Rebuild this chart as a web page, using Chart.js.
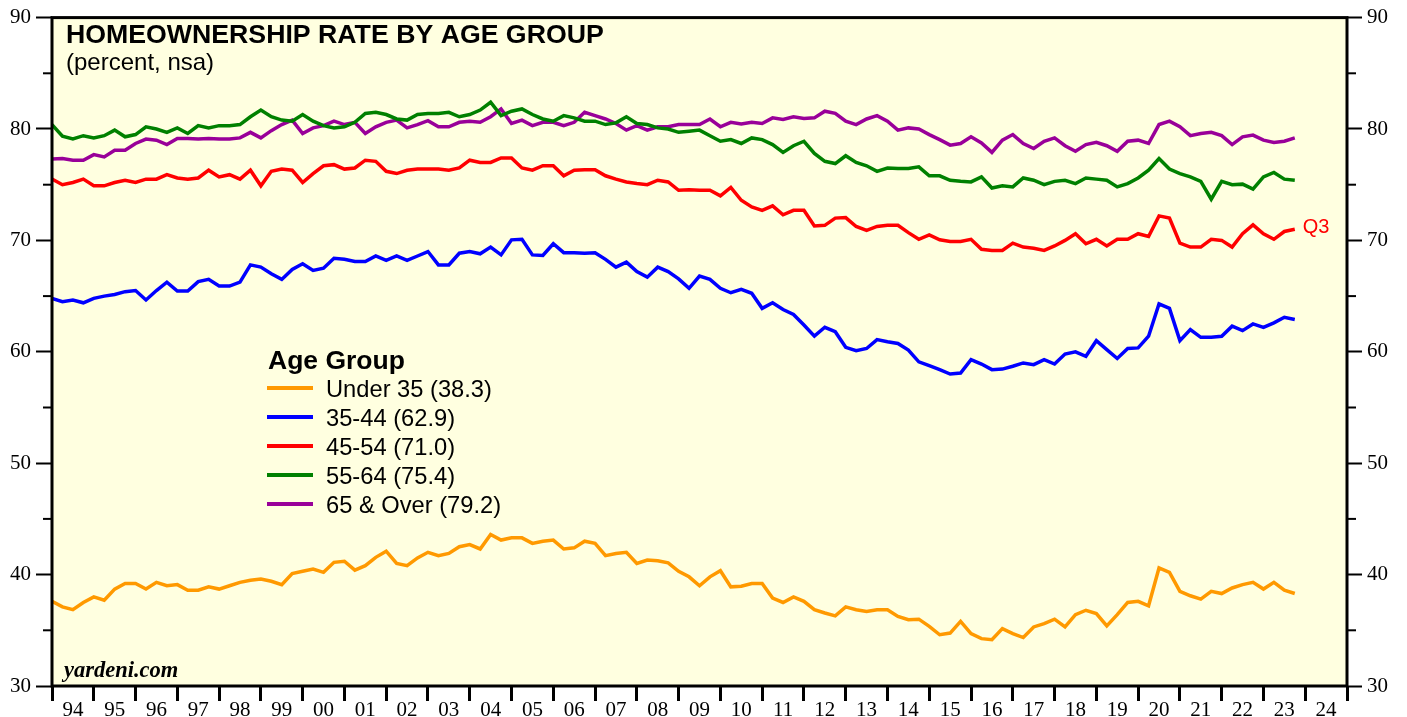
<!DOCTYPE html>
<html>
<head>
<meta charset="utf-8">
<script src="https://cdn.jsdelivr.net/npm/chart.js@4.4.1/dist/chart.umd.min.js"></script>
<style>
  html, body { margin: 0; padding: 0; background: #fff; }
  #wrap { width: 1407px; height: 717px; }
</style>
</head>
<body>
<div id="wrap"><canvas id="hCanvas" width="1407" height="717"></canvas></div>
<script>
// quarterly, 1993 Q4 .. 2023 Q3
var firstYear = 1993, firstQuarter = 4;

var under35 = [
  37.6,37.1,36.85,37.5,38.0,37.7,38.7,39.2,39.2,38.7,39.3,39.0,39.1,38.6,38.6,38.9,38.7,39.0,39.3,39.5,
  39.6,39.4,39.1,40.1,40.3,40.5,40.2,41.1,41.2,40.4,40.8,41.55,42.1,41.0,40.8,41.5,42.0,41.7,41.9,42.5,
  42.7,42.3,43.6,43.1,43.3,43.3,42.8,43.0,43.1,42.3,42.4,43.0,42.8,41.7,41.9,42.0,41.0,41.3,41.25,41.05,
  40.3,39.8,39.0,39.8,40.35,38.9,38.95,39.2,39.2,37.9,37.5,38.0,37.6,36.85,36.55,36.3,37.1,36.85,36.7,36.85,
  36.85,36.25,35.95,36.0,35.35,34.6,34.75,35.8,34.7,34.25,34.15,35.15,34.7,34.35,35.3,35.6,36.0,35.3,36.4,36.8,
  36.5,35.4,36.4,37.5,37.6,37.2,40.6,40.2,38.5,38.1,37.8,38.5,38.3,38.8,39.1,39.3,38.7,39.3,38.6,38.3
];
var age35to44 = [
  64.8,64.5,64.65,64.4,64.8,65.0,65.15,65.4,65.5,64.65,65.5,66.25,65.45,65.45,66.3,66.5,65.9,65.9,66.25,67.8,
  67.6,67.0,66.5,67.4,67.9,67.3,67.5,68.4,68.3,68.1,68.1,68.6,68.2,68.6,68.2,68.6,69.0,67.8,67.8,68.85,
  69.0,68.8,69.4,68.7,70.05,70.1,68.7,68.65,69.7,68.9,68.9,68.85,68.9,68.3,67.6,68.05,67.2,66.7,67.6,67.2,
  66.55,65.7,66.8,66.5,65.7,65.3,65.6,65.25,63.9,64.4,63.8,63.35,62.4,61.4,62.2,61.8,60.4,60.1,60.3,61.1,
  60.9,60.75,60.15,59.1,58.75,58.4,58.0,58.1,59.3,58.9,58.4,58.45,58.7,59.0,58.85,59.3,58.9,59.8,60.0,59.6,
  61.0,60.2,59.4,60.3,60.35,61.4,64.3,63.9,61.0,62.0,61.3,61.3,61.4,62.3,61.9,62.5,62.2,62.6,63.1,62.9
];
var age45to54 = [
  75.5,75.0,75.2,75.5,74.9,74.9,75.2,75.4,75.2,75.5,75.5,75.9,75.6,75.5,75.6,76.3,75.7,75.9,75.5,76.3,
  74.9,76.2,76.4,76.3,75.2,76.0,76.7,76.8,76.4,76.5,77.2,77.1,76.2,76.0,76.3,76.4,76.4,76.4,76.3,76.5,
  77.2,77.0,77.0,77.4,77.4,76.5,76.3,76.7,76.7,75.8,76.3,76.35,76.35,75.8,75.5,75.25,75.1,75.0,75.4,75.25,
  74.5,74.55,74.5,74.5,74.0,74.75,73.6,73.0,72.7,73.1,72.3,72.7,72.7,71.3,71.35,72.0,72.05,71.25,70.9,71.25,
  71.35,71.35,70.7,70.1,70.5,70.05,69.9,69.9,70.1,69.2,69.1,69.1,69.75,69.4,69.3,69.1,69.5,70.0,70.6,69.7,
  70.1,69.5,70.1,70.1,70.6,70.35,72.2,72.0,69.75,69.4,69.4,70.1,70.0,69.4,70.6,71.4,70.6,70.1,70.8,71.0
];
var age55to64 = [
  80.4,79.35,79.1,79.4,79.2,79.4,79.9,79.3,79.5,80.2,80.0,79.7,80.1,79.6,80.3,80.1,80.3,80.3,80.4,81.1,
  81.7,81.1,80.8,80.7,81.3,80.7,80.3,80.1,80.2,80.6,81.4,81.5,81.3,80.9,80.8,81.3,81.4,81.4,81.5,81.1,
  81.3,81.7,82.4,81.2,81.6,81.8,81.3,80.9,80.7,81.2,81.0,80.7,80.7,80.4,80.55,81.1,80.5,80.4,80.1,80.0,
  79.7,79.8,79.9,79.4,78.9,79.05,78.7,79.2,79.05,78.6,77.9,78.5,78.9,77.8,77.1,76.9,77.6,77.0,76.7,76.2,
  76.5,76.45,76.45,76.6,75.8,75.8,75.4,75.3,75.25,75.7,74.7,74.9,74.8,75.6,75.4,75.0,75.3,75.4,75.1,75.6,
  75.5,75.4,74.8,75.1,75.6,76.3,77.35,76.4,76.0,75.7,75.3,73.7,75.3,75.0,75.05,74.6,75.7,76.1,75.5,75.4
];
var age65over = [
  77.3,77.35,77.2,77.2,77.7,77.5,78.1,78.1,78.7,79.1,79.0,78.6,79.15,79.15,79.1,79.15,79.1,79.1,79.2,79.7,
  79.2,79.85,80.4,80.8,79.6,80.1,80.3,80.7,80.4,80.6,79.6,80.2,80.6,80.8,80.1,80.4,80.75,80.2,80.2,80.6,
  80.7,80.6,81.1,81.8,80.5,80.8,80.3,80.6,80.6,80.3,80.6,81.5,81.2,80.9,80.5,79.9,80.3,79.9,80.2,80.2,
  80.4,80.4,80.4,80.9,80.2,80.6,80.45,80.6,80.5,81.0,80.85,81.1,80.95,81.0,81.6,81.4,80.7,80.4,80.9,81.2,
  80.7,79.9,80.1,80.0,79.5,79.05,78.55,78.7,79.3,78.75,77.9,79.0,79.5,78.7,78.25,78.9,79.2,78.5,78.0,78.6,
  78.8,78.5,78.0,78.9,79.0,78.7,80.4,80.7,80.2,79.4,79.6,79.7,79.4,78.6,79.3,79.45,79.0,78.8,78.9,79.2
];

var seriesNames = ['Under 35 (38.3)', '35-44 (62.9)', '45-54 (71.0)', '55-64 (75.4)', '65 & Over (79.2)'];
var seriesColors = ['#FF9900', '#0000FF', '#FF0000', '#008000', '#990099'];
var seriesData = [under35, age35to44, age45to54, age55to64, age65over];

// x position of each quarter: end of quarter in decimal years
var quarterX = [];
var y = firstYear, q = firstQuarter;
for (var i = 0; i < under35.length; i++) {
  quarterX.push(y + q / 4);
  q++;
  if (q > 4) { q = 1; y++; }
}

var SANS = '"Liberation Sans", Arial, sans-serif';
var SERIF = '"Liberation Serif", "Times New Roman", serif';

var decorPlugin = {
  id: 'decor',
  beforeDraw: function (chart) {
    var a = chart.chartArea, ctx = chart.ctx;
    ctx.save();
    ctx.fillStyle = '#FFFFE0';
    ctx.fillRect(a.left, a.top, a.right - a.left, a.bottom - a.top);
    ctx.restore();
  },
  afterDraw: function (chart) {
    var a = chart.chartArea, ctx = chart.ctx;
    ctx.save();
    // minor ticks on both value axes
    ctx.strokeStyle = '#000';
    ctx.lineWidth = 2;
    ['y', 'y2'].forEach(function (id) {
      var s = chart.scales[id];
      s.ticks.forEach(function (t) {
        if (t.value % 10 === 0) return;
        var py = s.getPixelForValue(t.value);
        ctx.beginPath();
        if (id === 'y') { ctx.moveTo(a.left - 9, py); ctx.lineTo(a.left, py); }
        else { ctx.moveTo(a.right, py); ctx.lineTo(a.right + 9, py); }
        ctx.stroke();
      });
    });
    // frame
    ctx.lineWidth = 3;
    ctx.strokeRect(a.left, a.top, a.right - a.left, a.bottom - a.top);

    // titles
    ctx.fillStyle = '#000';
    ctx.textBaseline = 'alphabetic';
    ctx.textAlign = 'left';
    ctx.font = 'bold 26.7px ' + SANS;
    ctx.fillText('HOMEOWNERSHIP RATE BY AGE GROUP', a.left + 14, 43);
    ctx.font = '24px ' + SANS;
    ctx.fillText('(percent, nsa)', a.left + 14, 70);
    ctx.font = 'italic bold 22.5px ' + SERIF;
    ctx.fillText('yardeni.com', a.left + 12, 677);

    // legend
    ctx.font = 'bold 26.5px ' + SANS;
    ctx.fillText('Age Group', 268, 369);
    ctx.font = '23.7px ' + SANS;
    for (var k = 0; k < seriesNames.length; k++) {
      var ly = 388 + k * 29;
      ctx.strokeStyle = seriesColors[k];
      ctx.lineWidth = 4;
      ctx.beginPath();
      ctx.moveTo(267, ly);
      ctx.lineTo(313, ly);
      ctx.stroke();
      ctx.fillStyle = '#000';
      ctx.fillText(seriesNames[k], 326, ly + 9);
    }

    // Q3 tag at end of 45-54 line
    var meta = chart.getDatasetMeta(2);
    var last = meta.data[meta.data.length - 1];
    ctx.fillStyle = '#FF0000';
    ctx.font = '20px ' + SANS;
    ctx.textBaseline = 'middle';
    ctx.fillText('Q3', last.x + 8, last.y - 2);
    ctx.restore();
  }
};

var valueAxis = function (pos, width, tickLen) {
  return {
    type: 'linear',
    position: pos,
    min: 30,
    max: 90,
    afterFit: function (s) { s.width = width; },
    border: { display: false },
    grid: {
      drawOnChartArea: false,
      tickLength: tickLen,
      tickWidth: 2,
      tickColor: function (c) { return c.tick && c.tick.value % 10 === 0 ? '#000' : 'rgba(0,0,0,0)'; }
    },
    ticks: {
      stepSize: 5,
      padding: 5,
      color: '#000',
      font: { family: SERIF, size: 21 },
      callback: function (v) { return v % 10 === 0 ? String(v) : ''; }
    }
  };
};

new Chart(
  document.getElementById('hCanvas'),
  {
    type: 'line',
    plugins: [decorPlugin],
    data: {
      datasets: seriesData.map(function (vals, k) {
        return {
          label: seriesNames[k],
          data: vals.map(function (v, i) { return { x: quarterX[i], y: v }; }),
          borderColor: seriesColors[k],
          borderWidth: 3.5,
          pointRadius: 0,
          tension: 0,
          yAxisID: 'y'
        };
      })
    },
    options: {
      responsive: false,
      animation: false,
      layout: { padding: { top: 14, left: 0, right: 0, bottom: 0 } },
      plugins: {
        legend: { display: false },
        tooltip: { enabled: false }
      },
      scales: {
        x: {
          type: 'linear',
          min: 1994,
          max: 2025,
          afterFit: function (s) { s.height = 31; },
          border: { display: false },
          grid: {
            drawOnChartArea: false,
            tickLength: 15,
            tickWidth: 3,
            tickColor: function (c) { return c.tick && c.tick.value % 1 === 0 ? '#000' : 'rgba(0,0,0,0)'; }
          },
          ticks: {
            stepSize: 0.5,
            autoSkip: false,
            maxRotation: 0,
            padding: -3,
            color: '#000',
            font: { family: SERIF, size: 21 },
            callback: function (v) {
              if (v % 1 !== 0.5) return '';
              var yy = Math.floor(v) % 100;
              return (yy < 10 ? '0' : '') + yy;
            }
          }
        },
        y: valueAxis('left', 52, 16),
        y2: valueAxis('right', 60, 15)
      }
    }
  }
);
</script>
</body>
</html>
